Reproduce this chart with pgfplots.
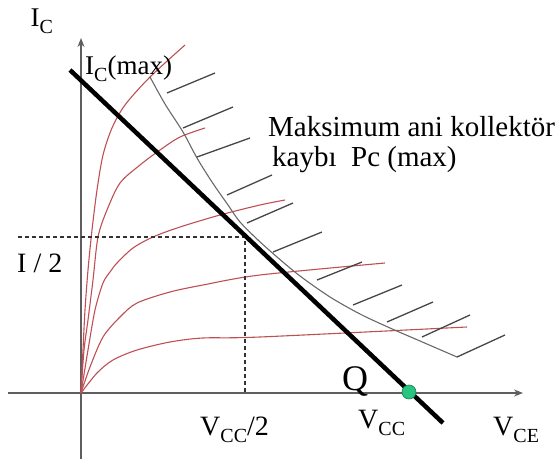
\documentclass[border=0pt]{standalone}
\usepackage{pgfplots}
\pgfplotsset{compat=1.18}
\usepackage{fontspec}
\setmainfont{Liberation Serif}
\usetikzlibrary{arrows.meta}

\definecolor{curvered}{RGB}{190,80,84}
\definecolor{pcgray}{RGB}{105,105,105}
\definecolor{hatchgray}{RGB}{70,70,70}
\definecolor{axisgray}{RGB}{95,95,95}
\definecolor{qgreen}{RGB}{40,196,128}
\definecolor{qgreendark}{RGB}{20,130,80}

% subscript set lower and smaller than the base letter
\newcommand\sub[1]{\raisebox{-7pt}{\fontsize{20}{20}\selectfont #1}}

\begin{document}
\begin{tikzpicture}
\begin{axis}[
  scale only axis,
  width=558pt, height=459pt,
  xmin=-81, xmax=477, ymin=-66, ymax=393,
  hide axis, clip=false,
]
\coordinate (bl) at (rel axis cs:0,0);
\coordinate (tr) at (rel axis cs:1,1);

% axes
\addplot[axisgray, line width=1.4pt, -{Stealth[length=9pt,width=7pt]}]
  coordinates {(0,-66) (0,355)};
\addplot[axisgray, line width=1.4pt, -{Stealth[length=9pt,width=7pt]}]
  coordinates {(-73,0) (442,0)};

% output characteristics I_C(V_CE)
\addplot[curvered, line width=1.1pt, smooth] coordinates {
  (0,0) (2,43) (4,83) (7,123) (11,163) (16,203) (22,238) (31,265) (44,288) (69,316) (104,348)};
\addplot[curvered, line width=1.1pt, smooth] coordinates {
  (0,0) (3,43) (7,73) (12,113) (17,156) (26,183) (39,210) (59,228) (79,243) (99,256) (124,265)};
\addplot[curvered, line width=1.1pt, smooth] coordinates {
  (0,0) (7,43) (14,83) (22,110) (29,121) (36,130) (52,145) (72,156) (99,166) (139,178) (179,188) (204,193)};
\addplot[curvered, line width=1.1pt, smooth] coordinates {
  (0,0) (9,26) (22,56) (39,76) (56,90) (89,101) (122,108) (179,118) (304,130)};
\addplot[curvered, line width=1.1pt, smooth] coordinates {
  (0,0) (16,20) (32,33) (56,43) (89,51) (122,55) (179,56) (386,66)};

% maximum collector dissipation curve
\addplot[pcgray, line width=1.1pt, smooth] coordinates {
  (69,316) (84,289) (102,261) (116,235) (131,211) (147,188) (159,171)
  (177,153) (196,136) (219,117) (249,96) (279,79) (309,65) (339,52) (376,36)};

% hatching on the forbidden side
\addplot[hatchgray, line width=1.3pt] coordinates {(86,300) (134,320)};
\addplot[hatchgray, line width=1.3pt] coordinates {(102,265) (152,286)};
\addplot[hatchgray, line width=1.3pt] coordinates {(116,236) (169,255)};
\addplot[hatchgray, line width=1.3pt] coordinates {(146,198) (191,218)};
\addplot[hatchgray, line width=1.3pt] coordinates {(166,170) (212,190)};
\addplot[hatchgray, line width=1.3pt] coordinates {(192,141) (241,161)};
\addplot[hatchgray, line width=1.3pt] coordinates {(236,113) (281,131)};
\addplot[hatchgray, line width=1.3pt] coordinates {(272,88) (321,108)};
\addplot[hatchgray, line width=1.3pt] coordinates {(306,71) (352,91)};
\addplot[hatchgray, line width=1.3pt] coordinates {(341,56) (389,78)};
\addplot[hatchgray, line width=1.3pt] coordinates {(376,36) (424,58)};

% midpoint guides
\addplot[black!80, line width=1.3pt, dash pattern=on 4pt off 3pt]
  coordinates {(-63,156) (164,156) (164,0)};

% load line
\addplot[black, line width=4.5pt] coordinates {(-11,323) (362,-30)};

% operating point
\addplot[only marks, mark=*, mark size=7pt,
  mark options={fill=qgreen, draw=qgreendark, line width=0.6pt}]
  coordinates {(328,1)};

% labels
\node[anchor=base west, font=\fontsize{27}{27}\selectfont] at (axis cs:-54,366) {I\sub{C}};
\node[anchor=base west, font=\fontsize{27}{27}\selectfont, inner sep=0pt] at (axis cs:4,318) {I\sub{C}(max)};
\node[anchor=base west, font=\fontsize{29}{29}\selectfont, inner sep=0pt] at (axis cs:187,256) {Maksimum ani kollektör};
\node[anchor=base west, font=\fontsize{29}{29}\selectfont, inner sep=0pt] at (axis cs:191,226) {kaybı\ \ Pc (max)};
\node[anchor=base west, font=\fontsize{28}{28}\selectfont, inner sep=0pt] at (axis cs:-64,120) {I / 2};
\node[anchor=base west, font=\fontsize{28}{28}\selectfont, inner sep=0pt] at (axis cs:119,-42) {V\sub{CC}/2};
\node[anchor=base west, font=\fontsize{36}{36}\selectfont, inner sep=0pt] at (axis cs:261,3) {Q};
\node[anchor=base west, font=\fontsize{28}{28}\selectfont, inner sep=0pt] at (axis cs:277,-35) {V\sub{CC}};
\node[anchor=base west, font=\fontsize{28}{28}\selectfont, inner sep=0pt] at (axis cs:412,-42) {V\sub{CE}};
\end{axis}
\pgfresetboundingbox
\path[use as bounding box] (bl) rectangle (tr);
\end{tikzpicture}
\end{document}
